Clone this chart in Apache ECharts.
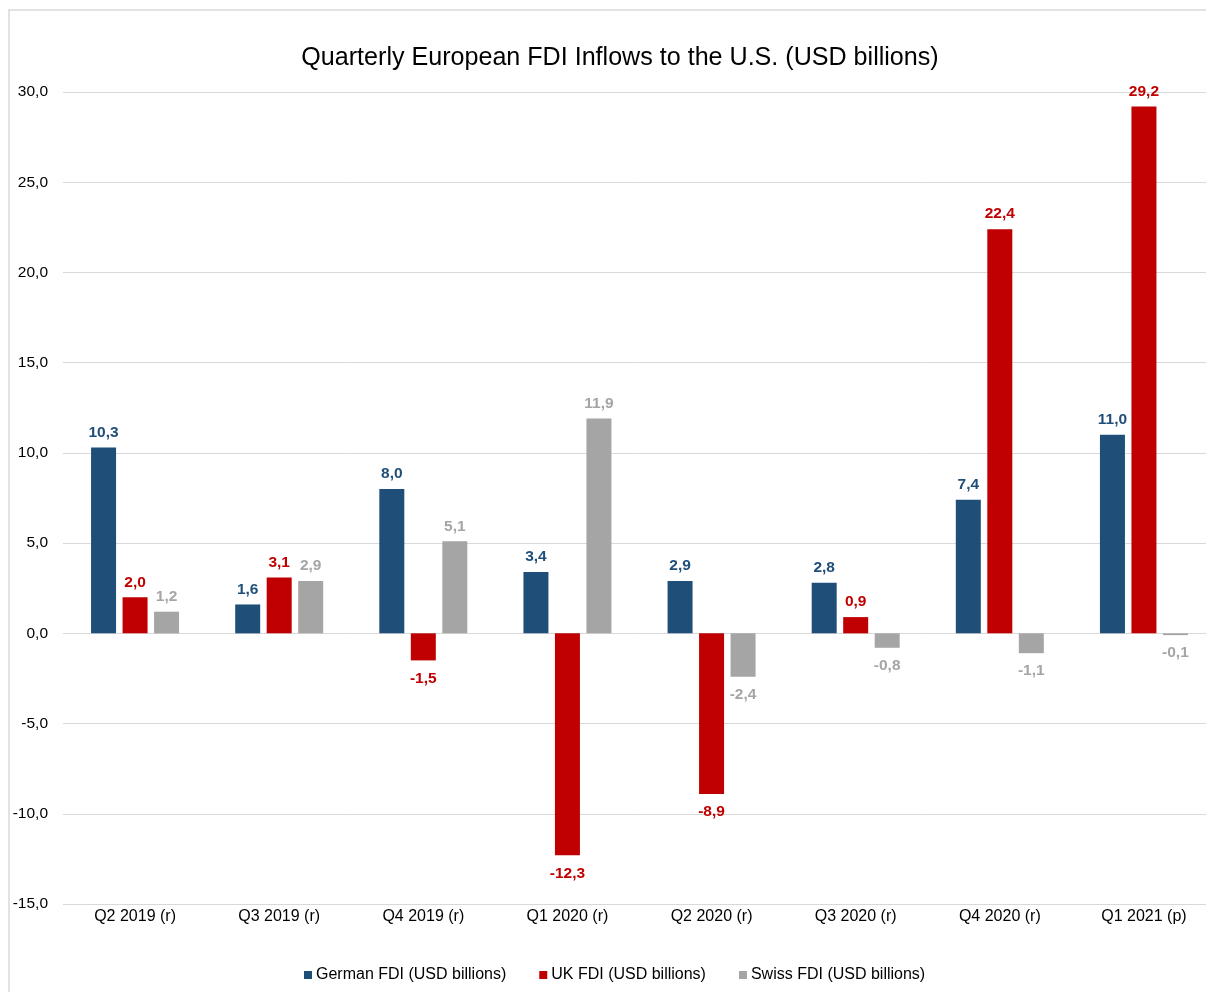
<!DOCTYPE html>
<html>
<head>
<meta charset="utf-8">
<script src="https://cdn.jsdelivr.net/npm/echarts@6/dist/echarts.min.js"></script>
<style>
html,body{margin:0;padding:0;background:#fff;overflow:hidden;width:1206px;height:992px;}
#chart{width:1216px;height:992px;}
</style>
</head>
<body>
<div id="chart"></div>
<script>
const categories = ['Q2 2019 (r)','Q3 2019 (r)','Q4 2019 (r)','Q1 2020 (r)','Q2 2020 (r)','Q3 2020 (r)','Q4 2020 (r)','Q1 2021 (p)'];
const germanFDI = [10.3, 1.6, 8.0, 3.4, 2.9, 2.8, 7.4, 11.0];
const ukFDI = [2.0, 3.1, -1.5, -12.3, -8.9, 0.9, 22.4, 29.2];
const swissFDI = [1.2, 2.9, 5.1, 11.9, -2.4, -0.8, -1.1, -0.1];
const seriesNames = ['German FDI (USD billions)','UK FDI (USD billions)','Swiss FDI (USD billions)'];
const colors = ['#1F4E79','#C00000','#A5A5A5'];

const fmt = v => v.toFixed(1).replace('.', ',');
const FONT = '"Liberation Sans", Arial, sans-serif';

function makeSeries(name, data, color) {
  return {
    name: name,
    type: 'bar',
    barWidth: 25,
    barGap: '26%',
    itemStyle: { color: color },
    data: data.map(v => ({
      value: v,
      label: {
        show: true,
        position: v >= 0 ? 'top' : 'bottom',
        distance: v >= 0 ? 7 : 10,
        formatter: p => fmt(p.value),
        color: color,
        fontWeight: 'bold',
        fontSize: 15.5,
        fontFamily: FONT
      }
    }))
  };
}

const chart = echarts.init(document.getElementById('chart'), null, { renderer: 'canvas' });
chart.setOption({
  backgroundColor: '#fff',
  animation: false,
  color: colors,
  title: {
    text: 'Quarterly European FDI Inflows to the U.S. (USD billions)',
    left: 615,
    top: 41,
    textAlign: 'center',
    textStyle: { fontSize: 25.1, fontWeight: 'normal', color: '#000', fontFamily: FONT }
  },
  graphic: [{
    type: 'rect',
    shape: { x: 9, y: 10, width: 1300, height: 1100 },
    style: { fill: 'none', stroke: '#D9D9D9', lineWidth: 1.5 },
    silent: true,
    z: -1
  }],
  legend: {
    bottom: 4,
    left: 299,
    itemWidth: 8,
    itemHeight: 8,
    itemGap: 33,
    icon: 'rect',
    textStyle: { fontSize: 16, color: '#000', fontFamily: FONT, padding: [0,0,0,-1] },
    data: seriesNames
  },
  grid: { left: 63, right: 0, top: 92, height: 812, containLabel: false },
  xAxis: {
    type: 'category',
    data: categories,
    axisLine: { show: false },
    axisTick: { show: false },
    axisLabel: { fontSize: 16, color: '#000', margin: 5, fontFamily: FONT }
  },
  yAxis: {
    type: 'value',
    min: -15,
    max: 30,
    interval: 5,
    axisLine: { show: false },
    axisTick: { show: false },
    splitLine: { lineStyle: { color: '#D9D9D9', width: 1 } },
    axisLabel: { fontSize: 15.5, color: '#000', margin: 15, fontFamily: FONT, formatter: v => fmt(v) }
  },
  series: [
    makeSeries(seriesNames[0], germanFDI, colors[0]),
    makeSeries(seriesNames[1], ukFDI, colors[1]),
    makeSeries(seriesNames[2], swissFDI, colors[2])
  ]
});
</script>
</body>
</html>
